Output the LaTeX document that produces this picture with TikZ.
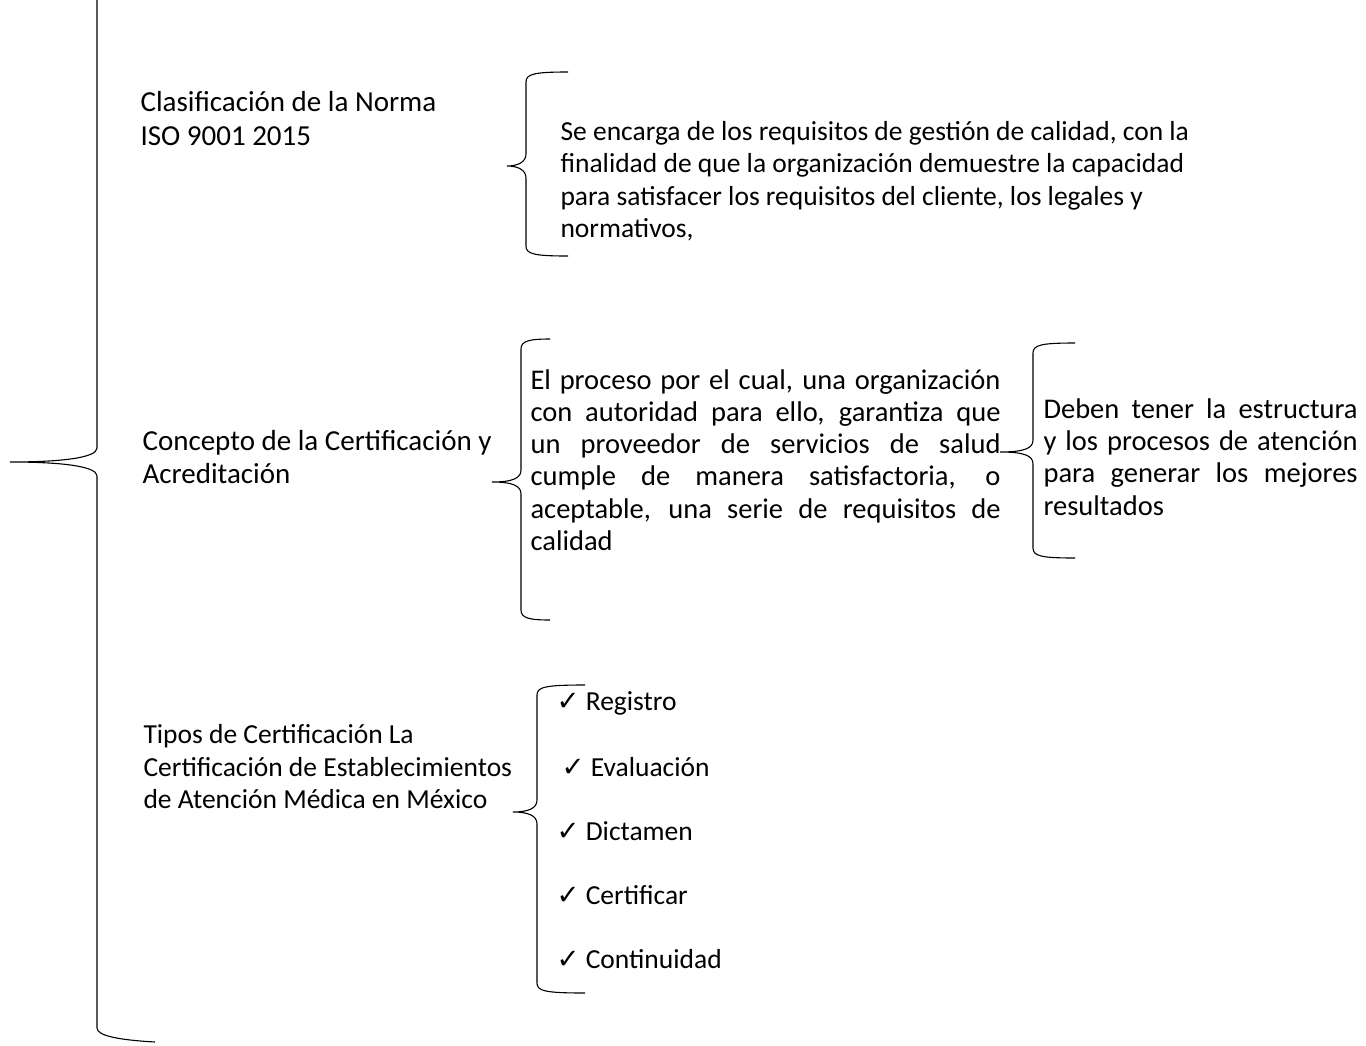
\documentclass[tikz,border=0pt]{standalone}
\usepackage{fontspec}
\setmainfont{Carlito}
\newfontfamily\symfont{DejaVu Sans}
\newcommand{\chk}{{\symfont ✓}}
% brace: stem x, top y, tip y, bottom y, tip x, end x
\newcommand{\wbrace}[6]{%
  \draw (#6,#2) .. controls (#1+8,#2) and (#1,#2+2) .. (#1,#2+10)
    -- (#1,#3-12) .. controls (#1,#3-4) and (#1-8,#3) .. (#5,#3)
    .. controls (#1-8,#3) and (#1,#3+4) .. (#1,#3+12)
    -- (#1,#4-10) .. controls (#1,#4-2) and (#1+8,#4) .. (#6,#4);}

\begin{document}
\begin{tikzpicture}[x=1pt,y=-1pt,line width=1.1pt]
\tikzstyle{every node}=[inner sep=0pt,anchor=west,font=\fontsize{27.5}{32.5}\selectfont]
\tikzstyle{item}=[align=left]
\tikzstyle{big}=[align=left,font=\fontsize{29}{34}\selectfont]
\tikzstyle{block}=[align=justify,font=\fontsize{28.5}{32.3}\selectfont]
\useasboundingbox (0,0) rectangle (1366,1045);

% big brace
\draw (97,0) -- (97,448) .. controls (97,458) and (60,462) .. (10,462)
  .. controls (60,462) and (97,466) .. (97,476) -- (97,1028)
  .. controls (97,1036) and (120,1040) .. (155,1042);

% level one
\node[big] (clas) at (140,119) {Clasificación de la Norma\\ISO 9001 2015};
\node[big,font=\fontsize{29}{33}\selectfont] (conc) at (142,457) {Concepto de la Certificación y\\Acreditación};
\node[item] (tipo) at (143,767) {Tipos de Certificación La\\Certificación de Establecimientos\\de Atención Médica en México};

% level two
\wbrace{526}{72}{166}{256}{507}{568}
\node[item] (enca) at (560,181) {Se encarga de los requisitos de gestión de calidad, con la\\finalidad de que la organización demuestre la capacidad\\para satisfacer los requisitos del cliente, los legales y\\normativos,};

\wbrace{521}{339}{482}{620}{492}{550}
\node[block,text width=470] (proc) at (530,460) {El proceso por el cual, una organización\linebreak con autoridad para ello, garantiza que\linebreak un proveedor de servicios de salud\linebreak cumple de manera satisfactoria, o\linebreak aceptable, una serie de requisitos de\linebreak calidad};

\wbrace{1033}{343}{452}{558}{1000}{1075}
\node[block,text width=314] (debe) at (1043,457) {Deben tener la estructura\linebreak y los procesos de atención\linebreak para generar los mejores\linebreak resultados};

\wbrace{537}{685}{812}{993}{513}{585}
\node (regi) at (556,703) {\chk\ Registro};
\node (eval) at (561,767) {\chk\ Evaluación};
\node (dict) at (556,831) {\chk\ Dictamen};
\node (cert) at (556,895) {\chk\ Certificar};
\node (cont) at (556,959) {\chk\ Continuidad};
\end{tikzpicture}
\end{document}
